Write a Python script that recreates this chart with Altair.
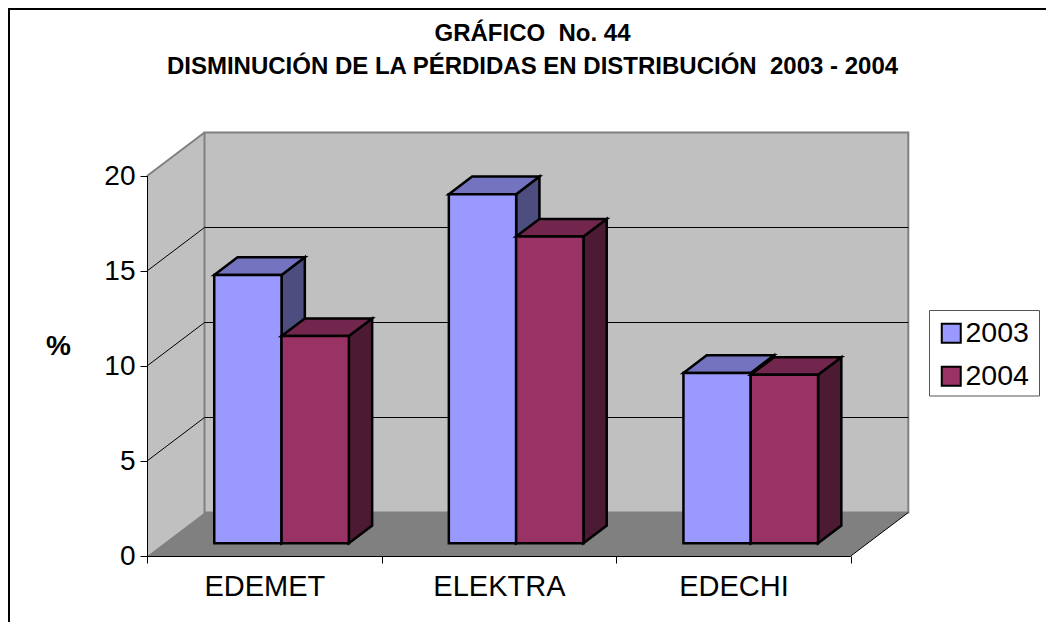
import altair as alt
import pandas as pd

categories = ["EDEMET", "ELEKTRA", "EDECHI"]
years = ["2003", "2004"]
values_2003 = [14.12, 18.37, 8.96]
values_2004 = [10.9, 16.14, 8.86]
front_colors = ["#9999FF", "#993366"]
top_colors = ["#7373BF", "#73264D"]
side_colors = ["#4D4D80", "#4D1A33"]
y_ticks = [0, 5, 10, 15, 20]
title_lines = ["GRÁFICO\u00a0 No. 44", "DISMINUCIÓN DE LA PÉRDIDAS EN DISTRIBUCIÓN\u00a0 2003 - 2004"]

FONT = "Liberation Sans"
PXX, PXY = 234.6, 19.0          # pixels per category / per value unit
W, H = 762, 424
DX, DY = 57.5 / PXX, 43.5 / PXY # depth of the box in data units
GAP, BW = 0.2143, 0.2869        # gap before the pair, bar width
D0, D1 = 0.295, 0.70            # bar position within the depth

xs = alt.Scale(domain=[0, W / PXX], nice=False, zero=False)
ys = alt.Scale(domain=[0, H / PXY], nice=False, zero=False)

label_expr = "+".join(
    f"(datum.value==={i + 0.5}?'{c}':'')" for i, c in enumerate(categories)
)
x_axis = alt.Axis(
    title=None, values=[0, 0.5, 1, 1.5, 2, 2.5, 3], labelExpr=label_expr, domain=False, grid=False,
    tickSize=7, tickColor="#000000",
    tickOpacity={"condition": {"test": "datum.value % 1 !== 0", "value": 0}, "value": 1},
    labelFont=FONT, labelFontSize=29, labelColor="#000000", labelPadding=9,
    labelOverlap=False, labelFlush=False, labelBound=False,
)
y_axis = alt.Axis(
    values=y_ticks, format="d", domain=False, grid=False, tickSize=7, tickColor="#000000",
    labelFont=FONT, labelFontSize=28, labelColor="#000000", labelPadding=5,
    labelOverlap=False, labelFlush=False, labelBound=False,
    title="%", titleFont=FONT, titleFontSize=28, titleFontWeight="bold", titleColor="#000000",
    titleAngle=0, titleX=-89, titleY=214, titleAlign="center", titleBaseline="middle",
)


def X(f="x", **kw):
    return alt.X(f"{f}:Q", scale=xs, axis=x_axis, **kw)


def Y(f="y", **kw):
    return alt.Y(f"{f}:Q", scale=ys, axis=y_axis, **kw)


def px_x(p):
    return (p - 147) / PXX


def px_y(p):
    return (556 - p) / PXY


# ---------- box ----------
left_wall = pd.DataFrame({"x": [0, DX], "y": [20, 20 + DY], "y0": [0, DY]})
back_wall = pd.DataFrame({"x": [DX], "x0": [3 + DX], "y": [20 + DY], "y0": [DY]})
floor = pd.DataFrame({"y": [0, DY], "x": [0, DX], "x0": [3, 3 + DX]})

HX, HY = 0.5 / PXX, 0.5 / PXY   # half a pixel, keeps the thin lines crisp
grid_rows = []
for v in y_ticks[1:-1]:
    grid_rows += [
        {"g": f"l{v}", "o": 0, "x": 0, "y": v},
        {"g": f"l{v}", "o": 1, "x": DX, "y": v + DY},
        {"g": f"b{v}", "o": 2, "x": DX, "y": v + DY},
        {"g": f"b{v}", "o": 3, "x": 3 + DX, "y": v + DY},
    ]
grid_rows += [
    {"g": "d", "o": 0, "x": 3, "y": 0},
    {"g": "d", "o": 1, "x": 3 + DX, "y": DY},
    {"g": "ax", "o": 0, "x": HX, "y": 20},
    {"g": "ax", "o": 1, "x": HX, "y": -HY},
    {"g": "ax", "o": 2, "x": 3, "y": -HY},
]
grid = pd.DataFrame(grid_rows)

top_left = pd.DataFrame({"g": ["e", "e"], "o": [0, 1], "x": [0, DX], "y": [20, 20 + DY]})

# page frame: only the top and left edges are visible in the reference
frame = pd.DataFrame({
    "o": [0, 1, 2],
    "x": [px_x(9), px_x(9), px_x(1060)],
    "y": [px_y(640), px_y(9), px_y(9)],
})

title_df = pd.DataFrame({
    "t": title_lines,
    "x": [px_x(532.5)] * 2,
    "y": [px_y(34), px_y(66.5)],
})

legend_box = pd.DataFrame({
    "x": [px_x(929.5)], "x0": [px_x(1039.5)], "y": [px_y(310.5)], "y0": [px_y(396)],
})

axis_src = pd.DataFrame({"x": [0.0], "y": [0.0]})
axis_layer = alt.Chart(axis_src).mark_point(opacity=0).encode(x=X(), y=Y())

wall_style = dict(fill="#C0C0C0", stroke="#808080", strokeWidth=2)
layers = [
    axis_layer,
    alt.Chart(frame).mark_line(color="#000000", strokeWidth=2, clip=False).encode(
        x=X(), y=Y(), order="o:Q"),
    alt.Chart(title_df).mark_text(font=FONT, fontSize=24, fontWeight="bold", color="#000000",
                                  align="center", baseline="middle").encode(
        x=X(), y=Y(), text="t:N"),
    alt.Chart(legend_box).mark_rect(fill="#FFFFFF", stroke="#555555", strokeWidth=1).encode(
        x=X(), x2=alt.X2("x0:Q"), y=Y(), y2=alt.Y2("y0:Q")),
    alt.Chart(left_wall).mark_area(orient="vertical", fill="#C0C0C0").encode(
        x=X(), y=Y(), y2=alt.Y2("y0:Q")),
    alt.Chart(back_wall).mark_rect(**wall_style).encode(
        x=X(), x2=alt.X2("x0:Q"), y=Y(), y2=alt.Y2("y0:Q")),
    alt.Chart(top_left).mark_line(color="#808080", strokeWidth=2).encode(
        x=X(), y=Y(), detail="g:N", order="o:Q"),
    alt.Chart(floor).mark_area(orient="horizontal", fill="#808080").encode(
        y=Y(), x=X(), x2=alt.X2("x0:Q")),
    alt.Chart(grid).mark_line(color="#000000", strokeWidth=1).encode(
        x=X(), y=Y(), detail="g:N", order="o:Q"),
]

# ---------- bars ----------
bx0, by0 = D0 * DX, D0 * DY
ddx, ddy = (D1 - D0) * DX, (D1 - D0) * DY
bar_stroke = dict(stroke="#000000", strokeWidth=2.5)
color_scale = alt.Scale(domain=years, range=front_colors)
series = [values_2003, values_2004]

for s, year in enumerate(years):
    front, side, top = [], [], []
    for i, c in enumerate(categories):
        v = series[s][i]
        x0 = i + bx0 + GAP + s * BW
        x1 = x0 + BW
        y0 = by0
        y1 = by0 + v
        front.append({"Año": year, "x": x0, "x0": x1, "y": y1, "y0": y0})
        side += [
            {"g": c, "x": x1, "y": y1, "y0": y0},
            {"g": c, "x": x1 + ddx, "y": y1 + ddy, "y0": y0 + ddy},
        ]
        top += [
            {"g": c, "y": y1, "x": x0, "x0": x1},
            {"g": c, "y": y1 + ddy, "x": x0 + ddx, "x0": x1 + ddx},
        ]
    layers += [
        alt.Chart(pd.DataFrame(side)).mark_area(orient="vertical", fill=side_colors[s], **bar_stroke).encode(
            x=X(), y=Y(), y2=alt.Y2("y0:Q"), detail="g:N"),
        alt.Chart(pd.DataFrame(top)).mark_area(orient="horizontal", fill=top_colors[s], **bar_stroke).encode(
            y=Y(), x=X(), x2=alt.X2("x0:Q"), detail="g:N"),
        alt.Chart(pd.DataFrame(front)).mark_rect(**bar_stroke).encode(
            x=X(), x2=alt.X2("x0:Q"), y=Y(), y2=alt.Y2("y0:Q"),
            color=alt.Color("Año:N", scale=color_scale, legend=alt.Legend(
                title=None, orient="none", legendX=785, legendY=182,
                symbolType="square", symbolSize=361, symbolStrokeColor="#000000", symbolStrokeWidth=2,
                labelFont=FONT, labelFontSize=28.5, labelColor="#000000", labelOffset=0,
                rowPadding=14, padding=5,
            )),
        ),
    ]

chart = alt.layer(*layers).resolve_scale(color="shared").properties(
    width=W,
    height=H,
    padding={"left": 139, "top": 124, "right": 137, "bottom": 66},
    autosize=alt.AutoSizeParams(type="none"),
    background="#FFFFFF",
).configure_view(stroke=None)

chart.save("out.html", embed_options={"renderer": "svg", "actions": False})
